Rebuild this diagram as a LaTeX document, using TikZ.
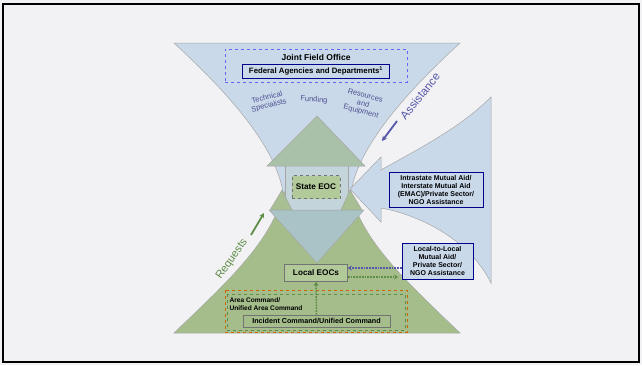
\documentclass[tikz,border=0pt]{standalone}
\usepackage{fontspec}
\setmainfont{Liberation Sans}
\usetikzlibrary{positioning,arrows,arrows.meta,shapes,fit}

\definecolor{funnelblue}{HTML}{C9D9EA}
\definecolor{funnelgreen}{HTML}{A5BD8B}
\definecolor{upgreen}{HTML}{A9C1A8}
\definecolor{downblue}{HTML}{A9C3C6}
\definecolor{shaftblue}{HTML}{C3D5DB}
\definecolor{boxgreen}{HTML}{B2C99A}
\definecolor{textblue}{HTML}{4E4E8E}
\definecolor{dotblue}{HTML}{5656AA}
\definecolor{dotgreen}{HTML}{5F8C46}
\definecolor{bgcol}{HTML}{F2F2F4}

\begin{document}
\begin{tikzpicture}[x=1pt,y=-1pt,>=stealth',
  shape line/.style={draw=black!35,line width=0.5pt},
  info node/.style={draw=blue!55!black,line width=0.6pt,fill=funnelblue,align=center,inner sep=1.5pt,font=\bfseries\fontsize{7}{8}\selectfont},
  eoc node/.style={draw=black!55,line width=0.6pt,fill=boxgreen,font=\bfseries\fontsize{8.2}{9}\selectfont},
  flow node/.style={font=\fontsize{7.5}{7.5}\selectfont,text=textblue,align=center},
  dots/.style={line width=1.8pt,densely dotted,-{Stealth[length=4pt,width=5pt]}}]
  \useasboundingbox (0,0) rectangle (642,365);
  \fill[bgcol] (0,0) rectangle (642,365);
  \draw[line width=2pt] (3,4) rectangle (639,362);

  % funnels
  \filldraw[shape line,fill=funnelblue] (174,43) -- (460,43) .. controls (398,100) and (358,150) .. (351,192)
    -- (283,192) .. controls (276,150) and (236,100) .. (174,43) -- cycle;
  \filldraw[shape line,fill=funnelgreen] (174,333) -- (460,333) .. controls (410,285) and (360,240) .. (351,192)
    -- (283,192) .. controls (274,240) and (224,285) .. (174,333) -- cycle;
  \filldraw[shape line,fill=funnelblue] (381,170) -- (381,157) -- (350,189) -- (381,222) -- (381,208)
    .. controls (420,215) and (470,240) .. (491,283) -- (491,97) .. controls (460,128) and (420,148) .. (381,170) -- cycle;

  % two way arrow
  \filldraw[shape line,fill=shaftblue] (285,165) rectangle (348,212);
  \filldraw[shape line,fill=funnelgreen!90!shaftblue] (270,210) -- (282,190) -- (292,210) -- cycle;
  \filldraw[shape line,fill=funnelgreen!90!shaftblue] (341,210) -- (350,190) -- (362,210) -- cycle;
  \filldraw[shape line,fill=upgreen] (317,116) -- (365,166) -- (267,166) -- cycle;
  \filldraw[shape line,fill=downblue] (269,210) -- (364,210) -- (317,263) -- cycle;

  % top
  \node[draw=blue!60,dashed,line width=0.6pt,minimum width=182pt,minimum height=33pt] (jfo) at (316,65.5) {};
  \node[font=\bfseries\fontsize{8.5}{9}\selectfont] (jfotext) at (316,57.5) {Joint Field Office};
  \node[info node,minimum width=147pt,minimum height=14pt,font=\bfseries\fontsize{7.8}{8}\selectfont] (federal) at (316,71) {Federal Agencies and Departments\textsuperscript{1}};
  \node[flow node,rotate=14,font=\fontsize{7.5}{8}\selectfont] (tech) at (268,102) {Technical\\Specialists};
  \node[flow node,rotate=-4] (funding) at (314,100) {Funding};
  \node[flow node,rotate=-15,font=\fontsize{7.5}{8}\selectfont] (resources) at (363,104) {Resources\\and\\Equipment};

  % assistance and requests
  \node[font=\fontsize{11.5}{12}\selectfont,text=dotblue,rotate=51] (assist) at (420,96) {Assistance};
  \coordinate (a1) at (397,121);
  \coordinate (a2) at (382,141);
  \draw[-{Stealth[length=5pt,width=5pt]},line width=1.8pt,dotblue] (a1) -- (a2);
  \node[font=\fontsize{11}{11}\selectfont,text=dotgreen,rotate=55] (requests) at (232,259) {Requests};
  \coordinate (r1) at (251,235);
  \coordinate (r2) at (264,213);
  \draw[-{Stealth[length=5pt,width=5pt]},line width=1.8pt,dotgreen] (r1) -- (r2);

  % eocs
  \node[eoc node,dashed,minimum width=48pt,minimum height=23pt] (state) at (316,187) {State EOC};
  \node[eoc node,minimum width=63pt,minimum height=17pt] (local) at (316,273) {Local EOCs};
  \node[info node,minimum width=94pt,minimum height=35pt] (intra) at (436,189.5) {Intrastate Mutual Aid/\\Interstate Mutual Aid\\(EMAC)/Private Sector/\\NGO Assistance};
  \node[info node,minimum width=71pt,minimum height=36pt] (l2l) at (437.5,261) {Local-to-Local\\Mutual Aid/\\Private Sector/\\NGO Assistance};

  % command boxes
  \draw[orange!80!black,dashed,line width=0.6pt] (225,290) rectangle (407,332);
  \draw[dotgreen,dashed,line width=0.6pt] (227,294) rectangle (405,330);
  \node[font=\bfseries\fontsize{6.6}{8}\selectfont,align=left,anchor=west] (area) at (226,304) {Area Command/\\Unified Area Command};
  \node[eoc node,fill=funnelgreen,minimum width=147pt,minimum height=12pt,font=\bfseries\fontsize{7.2}{7.5}\selectfont] (incident) at (316.5,321) {Incident Command/Unified Command};

  % dotted connectors
  \coordinate (g1) at (398,277);
  \draw[dots,dotblue] (l2l.west |- 0,268) -- (local.east |- 0,268);
  \draw[dots,dotgreen] (local.east |- g1) -- (g1);
  \draw[dots,dotgreen,line width=1.5pt] (incident.north) -- (local.south);
\end{tikzpicture}
\end{document}
